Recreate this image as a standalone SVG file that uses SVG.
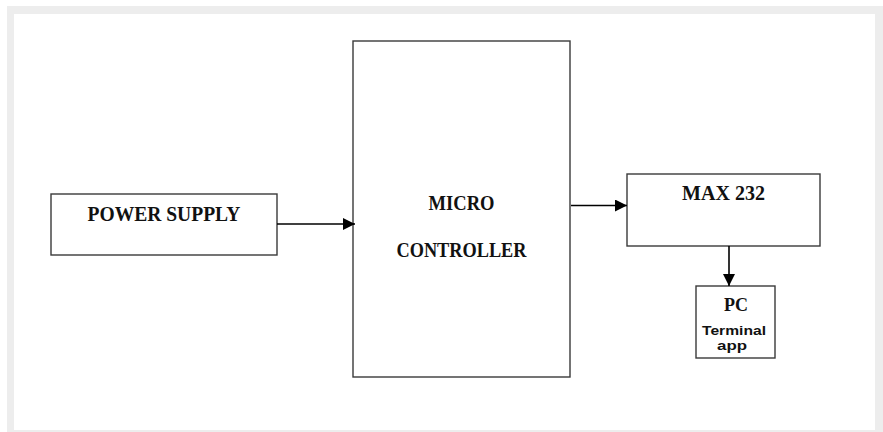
<svg xmlns="http://www.w3.org/2000/svg" width="883" height="432" viewBox="0 0 883 432">
<defs>
<style>
.box{fill:#fff;stroke:#3a3a3a;stroke-width:1.4}
.lbl{font-family:"Liberation Serif","Times New Roman",serif;font-weight:bold;fill:#111;text-anchor:middle}
.sans{font-family:"Liberation Sans",Arial,sans-serif;font-weight:bold;fill:#111;text-anchor:middle}
.conn{stroke:#000;stroke-width:1.6;fill:none}
</style>
<marker id="ah" markerWidth="12" markerHeight="12" viewBox="0 0 12 12" refX="12" refY="6" orient="auto" markerUnits="userSpaceOnUse">
<path d="M0,0 L12,6 L0,12 Z" fill="#000"/>
</marker>
</defs>
<rect x="0" y="0" width="883" height="432" fill="#fff"/>
<rect x="7" y="6" width="876" height="430" fill="#ededed"/>
<rect x="14" y="14" width="861" height="416" fill="#fff"/>
<g id="power">
<rect class="box" x="51" y="194" width="226" height="61"/>
<text class="lbl" x="164" y="221" font-size="20" textLength="153" lengthAdjust="spacingAndGlyphs">POWER SUPPLY</text>
</g>
<g id="micro">
<rect class="box" x="353" y="41" width="217" height="336"/>
<text class="lbl" x="461.5" y="210" font-size="20" textLength="66" lengthAdjust="spacingAndGlyphs">MICRO</text>
<text class="lbl" x="461.5" y="257" font-size="20" textLength="130" lengthAdjust="spacingAndGlyphs">CONTROLLER</text>
</g>
<g id="max232">
<rect class="box" x="627" y="174" width="193" height="72"/>
<text class="lbl" x="723.5" y="200" font-size="20" textLength="83" lengthAdjust="spacingAndGlyphs">MAX 232</text>
</g>
<g id="pc">
<rect class="box" x="696" y="286" width="79" height="72"/>
<text class="lbl" x="736" y="311" font-size="18">PC</text>
<text class="sans" x="734" y="335" font-size="13" textLength="64" lengthAdjust="spacingAndGlyphs">Terminal</text>
<text class="sans" x="732" y="350" font-size="13" textLength="30" lengthAdjust="spacingAndGlyphs">app</text>
</g>
<g id="connectors">
<line class="conn" x1="277" y1="224" x2="355" y2="224" marker-end="url(#ah)"/>
<line class="conn" x1="571" y1="205.5" x2="627" y2="205.5" marker-end="url(#ah)"/>
<line class="conn" x1="729" y1="246" x2="729" y2="286" marker-end="url(#ah)"/>
</g>
</svg>
